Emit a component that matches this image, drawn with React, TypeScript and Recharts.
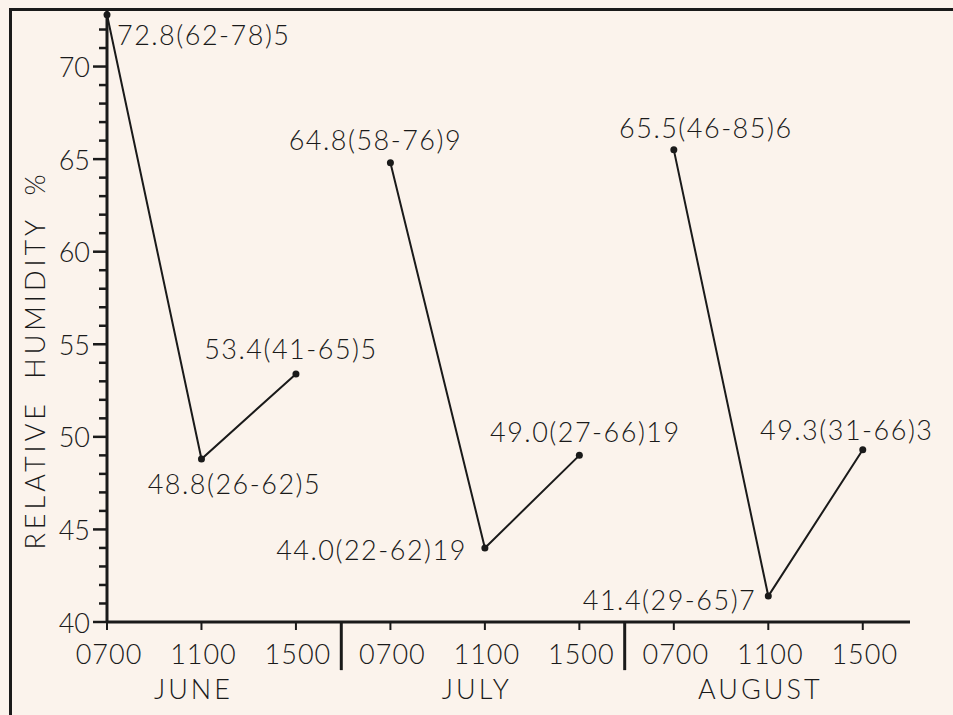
import React from "react";
import { LineChart, Line, XAxis, YAxis, LabelList, ReferenceLine } from "recharts";

// hour slots inside each month, and the months
const slotLabels = ["0700", "1100", "1500"];
const monthNames = ["JUNE", "JULY", "AUGUST"];

// mean relative humidity (range) number of days
const juneMeans = [72.8, 48.8, 53.4];
const juneRanges = ["62-78", "26-62", "41-65"];
const juneCounts = [5, 5, 5];

const julyMeans = [64.8, 44.0, 49.0];
const julyRanges = ["58-76", "22-62", "27-66"];
const julyCounts = [9, 19, 19];

const augustMeans = [65.5, 41.4, 49.3];
const augustRanges = ["46-85", "29-65", "31-66"];
const augustCounts = [6, 7, 3];

const yTicks = [40, 41, 42, 43, 44, 45, 46, 47, 48, 49, 50, 51, 52, 53, 54, 55, 56, 57, 58, 59, 60, 61, 62, 63, 64, 65, 66, 67, 68, 69, 70, 71, 72];

const ink = "#1a1a1a";
const font = "Lato, 'Open Sans', sans-serif";
const weight = 300;

const buildMonth = (m: number, means: number[], ranges: string[], counts: number[]) =>
  means.map((v, i) => ({
    x: m * 3 + i,
    y: v,
    label: `${v.toFixed(1)}(${ranges[i]})${counts[i]}`,
  }));

const juneData = buildMonth(0, juneMeans, juneRanges, juneCounts);
const julyData = buildMonth(1, julyMeans, julyRanges, julyCounts);
const augustData = buildMonth(2, augustMeans, augustRanges, augustCounts);

// where each value label sits relative to its point
const labelPlace = [
  [{ dx: 10, dy: 20, a: "start" }, { dx: 33, dy: 24, a: "middle" }, { dx: -5, dy: -25, a: "middle" }],
  [{ dx: -15, dy: -23, a: "middle" }, { dx: -18, dy: 2, a: "end" }, { dx: 6, dy: -24, a: "middle" }],
  [{ dx: 32, dy: -22, a: "middle" }, { dx: -12, dy: 3, a: "end" }, { dx: -16, dy: -20, a: "middle" }],
];

const makeLabel = (month: number) => (props: any) => {
  const { x, y, value, index } = props;
  const p = labelPlace[month][index];
  return (
    <text x={x + p.dx} y={y + p.dy} textAnchor={p.a} dominantBaseline="central" fontSize={27} fontFamily={font} fontWeight={weight} letterSpacing={1.5} fill={ink}>
      {value}
    </text>
  );
};

const XTick = (props: any) => {
  const { x, y, payload } = props;
  const i = payload.value as number;
  const slot = i % 3;
  return (
    <g>
      <text x={x + 2} y={y + 32} textAnchor="middle" fontSize={27} fontFamily={font} fontWeight={weight} letterSpacing={1} fill={ink}>
        {slotLabels[slot]}
      </text>
      {slot === 1 && (
        <text x={x - 8} y={y + 67} textAnchor="middle" fontSize={27} fontFamily={font} fontWeight={weight} fill={ink} letterSpacing={3}>
          {monthNames[Math.floor(i / 3)]}
        </text>
      )}
    </g>
  );
};

const YTick = (props: any) => {
  const { x, y, payload } = props;
  const v = payload.value as number;
  const major = v % 5 === 0;
  return (
    <g>
      <line x1={x - (major ? 14 : 8)} x2={x} y1={y} y2={y} stroke={ink} strokeWidth={2.5} />
      {major && (
        <text x={x - 17} y={y} textAnchor="end" dominantBaseline="central" fontSize={27} fontFamily={font} fontWeight={weight} fill={ink}>
          {v}
        </text>
      )}
    </g>
  );
};

const seriesList = [juneData, julyData, augustData];

export default function App() {
  return (
    <div style={{ position: "relative", width: 953, height: 715, background: "#fbf3ec", overflow: "hidden" }}>
      <style>{`body{margin:0}`}</style>
      <div
        style={{
          position: "absolute",
          left: 9,
          top: 8,
          right: -10,
          bottom: -10,
          borderLeft: `3px solid ${ink}`,
          borderTop: `3px solid ${ink}`,
        }}
      />
      <LineChart width={953} height={715} margin={{ top: 11, right: 43, bottom: 0, left: 0 }}>
        <XAxis
          type="number"
          dataKey="x"
          domain={[0, 8.5]}
          ticks={[0, 1, 2, 3, 4, 5, 6, 7, 8]}
          interval={0}
          height={93}
          tickSize={8}
          tickMargin={2}
          axisLine={{ stroke: ink, strokeWidth: 3 }}
          tickLine={{ stroke: ink, strokeWidth: 2 }}
          tick={<XTick />}
          allowDuplicatedCategory={false}
        />
        <YAxis
          type="number"
          domain={[40, 73]}
          ticks={yTicks}
          interval={0}
          width={107}
          tickSize={0}
          tickMargin={0}
          axisLine={{ stroke: ink, strokeWidth: 3 }}
          tickLine={false}
          tick={<YTick />}
          label={{
            content: () => (
              <text
                x={34}
                y={360}
                transform="rotate(-90 34 360)"
                textAnchor="middle"
                dominantBaseline="central"
                fontSize={27}
                fontFamily={font}
                fontWeight={weight}
                fill={ink}
                letterSpacing={4}
                wordSpacing={10}
              >
                RELATIVE HUMIDITY %
              </text>
            ),
          }}
        />
        <ReferenceLine segment={[{ x: 2.48, y: 40 }, { x: 2.48, y: 37.4 }]} stroke={ink} strokeWidth={3} ifOverflow="visible" />
        <ReferenceLine segment={[{ x: 5.48, y: 40 }, { x: 5.48, y: 37.4 }]} stroke={ink} strokeWidth={3} ifOverflow="visible" />
        {seriesList.map((d, m) => (
          <Line
            key={m}
            data={d}
            dataKey="y"
            type="linear"
            stroke={ink}
            strokeWidth={2}
            dot={{ r: 3.5, fill: ink, stroke: ink, strokeWidth: 0 }}
            isAnimationActive={false}
          >
            <LabelList dataKey="label" content={makeLabel(m)} />
          </Line>
        ))}
      </LineChart>
    </div>
  );
}
